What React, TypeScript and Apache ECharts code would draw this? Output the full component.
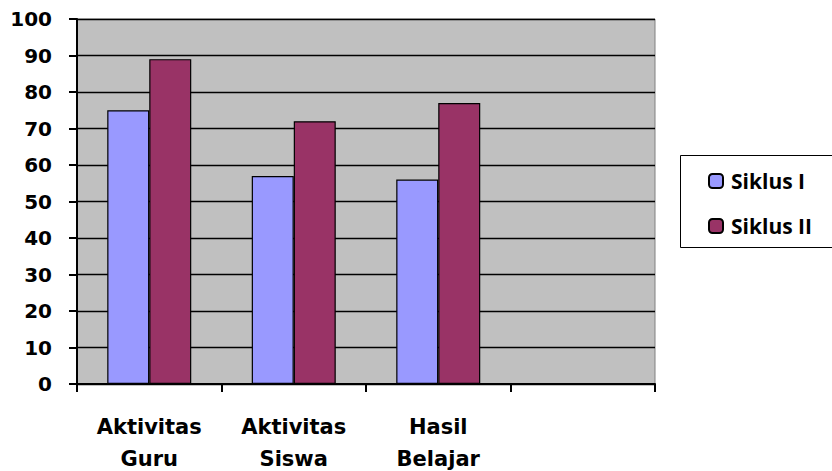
import React, { useEffect, useRef } from "react";
import * as echarts from "echarts";

const categories = ["Aktivitas\nGuru", "Aktivitas\nSiswa", "Hasil\nBelajar", ""];
const siklusI = [75, 57, 56, "-"];
const siklusII = [89, 72, 77, "-"];
const seriesNames = ["Siklus I", "Siklus II"];

export default function App() {
  const ref = useRef<HTMLDivElement>(null);
  useEffect(() => {
    if (!ref.current) return;
    const chart = echarts.init(ref.current, null, { renderer: "svg" });
    const legendText = {
      fontFamily: "Open Sans",
      fontWeight: "bold",
      fontSize: 21,
      color: "#000",
      lineHeight: 22,
      padding: [0, 0, 0, 3],
    };
    chart.setOption({
      animation: false,
      backgroundColor: "#fff",
      grid: {
        left: 77,
        right: 177,
        top: 19,
        bottom: 87,
        show: true,
        backgroundColor: "#C0C0C0",
        borderColor: "#808080",
        borderWidth: 1,
        containLabel: false,
        outerBoundsMode: "none",
      },
      graphic: [
        {
          type: "rect",
          shape: { x: 680.5, y: 155.5, width: 160, height: 92 },
          style: { fill: "#fff", stroke: "#000", lineWidth: 1 },
          z: 0,
        },
      ],
      legend: [
        {
          data: [seriesNames[0]],
          left: 708,
          top: 170,
          padding: 0,
          itemWidth: 14,
          itemHeight: 14,
          textStyle: legendText,
          selectedMode: false,
          z: 5,
        },
        {
          data: [seriesNames[1]],
          left: 708,
          top: 215,
          padding: 0,
          itemWidth: 14,
          itemHeight: 14,
          textStyle: legendText,
          selectedMode: false,
          z: 5,
        },
      ],
      xAxis: {
        type: "category",
        data: categories,
        boundaryGap: true,
        axisLine: { show: true, lineStyle: { color: "#000", width: 2 } },
        axisTick: { show: true, length: 8, interval: 0, lineStyle: { color: "#000", width: 2 } },
        axisLabel: {
          interval: 0,
          margin: 27,
          fontFamily: "DejaVu Sans",
          fontWeight: "bold",
          fontSize: 21,
          lineHeight: 32,
          color: "#000",
        },
        splitLine: { show: false },
      },
      yAxis: {
        type: "value",
        min: 0,
        max: 100,
        interval: 10,
        axisLine: { show: true, lineStyle: { color: "#000", width: 2 } },
        axisTick: { show: true, length: 8, lineStyle: { color: "#000", width: 2 } },
        axisLabel: {
          margin: 25,
          fontFamily: "DejaVu Sans",
          fontWeight: "bold",
          fontSize: 20,
          color: "#000",
        },
        splitLine: { show: true, lineStyle: { color: "#000", width: 1.3 } },
      },
      series: [
        {
          name: seriesNames[0],
          type: "bar",
          data: siklusI,
          barWidth: 42,
          barGap: "0%",
          itemStyle: { color: "#9999FF", borderColor: "#000", borderWidth: 1.2 },
        },
        {
          name: seriesNames[1],
          type: "bar",
          data: siklusII,
          barWidth: 42,
          barGap: "0%",
          itemStyle: { color: "#993366", borderColor: "#000", borderWidth: 1.2 },
        },
      ],
    });
    return () => chart.dispose();
  }, []);
  return (
    <div
      ref={ref}
      style={{ position: "fixed", left: 0, top: 0, width: 832, height: 471 }}
    />
  );
}
